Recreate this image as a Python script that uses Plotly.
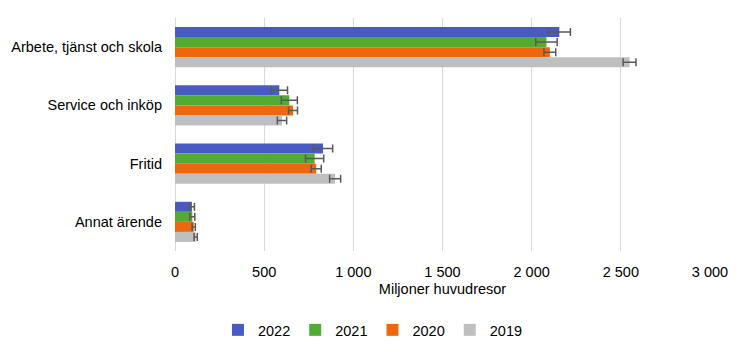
import plotly.graph_objects as go

categories = ["Arbete, tjänst och skola", "Service och inköp", "Fritid", "Annat ärende"]
years = ["2022", "2021", "2020", "2019"]
values = {
    "2022": [2155, 585, 830, 95],
    "2021": [2083, 641, 783, 97],
    "2020": [2102, 662, 792, 105],
    "2019": [2549, 600, 898, 116],
}
errors = {
    "2022": [62, 46, 54, 14],
    "2021": [60, 45, 51, 14],
    "2020": [33, 25, 28, 9],
    "2019": [36, 26, 31, 9],
}
colors = {"2022": "#4A5AC4", "2021": "#4FAD33", "2020": "#EE680B", "2019": "#BFBFBF"}

fig = go.Figure()
for y in years:
    fig.add_trace(go.Bar(
        name=y, y=categories, x=values[y], orientation="h",
        marker=dict(color=colors[y], line=dict(width=0)),
        error_x=dict(type="data", array=errors[y], visible=True,
                     color="#595959", thickness=1.5, width=4),
    ))

fig.update_layout(
    width=738, height=347,
    margin=dict(l=167, r=36, t=10, b=103),
    barmode="group", bargap=0.31, bargroupgap=0,
    plot_bgcolor="white", paper_bgcolor="white",
    separators=", ",
    font=dict(family="Liberation Sans, Arial, sans-serif", size=14, color="#000000"),
    xaxis=dict(range=[0, 3000], dtick=500, tickformat=",d", automargin=False,
               showgrid=True, gridcolor="#D9D9D9", gridwidth=1,
               zeroline=True, zerolinecolor="#D9D9D9", zerolinewidth=1,
               showline=False, ticks="", tickfont=dict(size=14.5),
               ticklabelstandoff=10,
               title=dict(text="Miljoner huvudresor", standoff=5, font=dict(size=14.5))),
    yaxis=dict(autorange="reversed", showgrid=False, showline=False, ticks="",
               tickfont=dict(size=14.5),
               ticklabelstandoff=12, automargin=False),
    legend=dict(orientation="h", x=0.37, xanchor="center", y=-0.333, yanchor="middle",
                font=dict(size=14.5), traceorder="normal"),
)

fig.write_html("out.html")
